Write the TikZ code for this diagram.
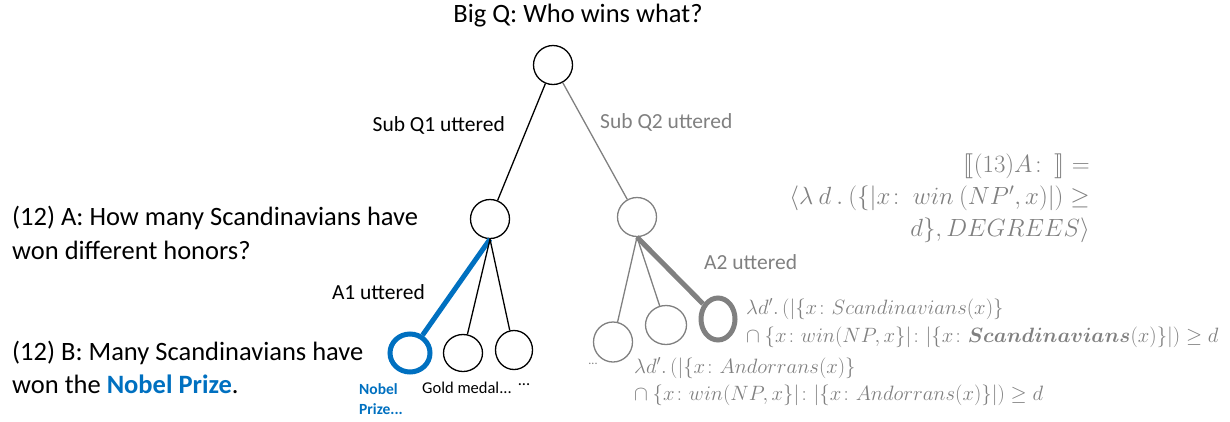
\documentclass[tikz,border=0pt]{standalone}
\usepackage{fontspec}
\setmainfont{Carlito}
\usepackage{amsmath,amssymb,stmaryrd}
\usetikzlibrary{shapes.geometric}
\definecolor{gr}{RGB}{128,128,128}
\definecolor{bl}{RGB}{0,112,192}
\tikzset{
  nd/.style={draw,ellipse,minimum width=#1,line width=1.3pt,inner sep=0pt},
  big/.style={font=\fontsize{26.5}{31}\selectfont,inner sep=0pt},
  lab/.style={font=\fontsize{21.5}{25}\selectfont,inner sep=0pt},
  fm/.style={font=\fontsize{23}{32}\selectfont,inner sep=0pt,text=gr},
  fs/.style={font=\fontsize{20.5}{27}\selectfont,inner sep=0pt,text=gr},
}
\begin{document}
\begin{tikzpicture}[x=1pt,y=-1pt]
\useasboundingbox (0,0) rectangle (1230,421);
% nodes
\node[nd=39pt,minimum height=39pt] (root) at (553,65) {};
\node[nd=39pt,minimum height=39pt] (q1) at (490,219) {};
\node[nd=39pt,minimum height=39pt,draw=gr] (q2) at (637,217) {};
\node[nd=40pt,minimum height=38pt,draw=bl,line width=5pt] (nob) at (410,353) {};
\node[nd=39pt,minimum height=37pt] (gold) at (463,353) {};
\node[nd=37pt,minimum height=39pt] (dots) at (514,350) {};
\node[nd=39pt,minimum height=40pt,draw=gr] (g1) at (613,342) {};
\node[nd=41pt,minimum height=39pt,draw=gr] (g2) at (666,325) {};
\node[nd=34pt,minimum height=42pt,draw=gr,line width=5pt] (g3) at (718,319) {};
% edges
\draw[line width=1.3pt] (root) -- (q1);
\draw[line width=1.3pt,gr] (root) -- (q2);
\draw[line width=5pt,bl] (q1.south) -- (nob);
\draw[line width=1.3pt] (q1.south) -- (gold);
\draw[line width=1.3pt] (q1.south) -- (dots);
\draw[line width=1.3pt,gr] (q2.south) -- (g1);
\draw[line width=1.3pt,gr] (q2.south) -- (g2);
\draw[line width=5pt,gr] (q2.south) -- (g3);
% labels
\node[big] (bigq) at (578,16) {Big Q: Who wins what?};
\node[lab,anchor=east] (s1) at (505,125) {Sub Q1 uttered};
\node[lab,anchor=west,text=gr] (s2) at (600,122) {Sub Q2 uttered};
\node[lab,anchor=west,text=gr] (a2) at (704,262) {A2 uttered};
\node[lab,anchor=east] (a1) at (425,292) {A1 uttered};
\node[font=\fontsize{15.5}{20}\selectfont\bfseries,text=bl,align=left,anchor=north west,inner sep=0pt] (nl) at (359,383) {Nobel\\Prize...};
\node[font=\fontsize{16.5}{20}\selectfont,inner sep=0pt] (gl) at (467,388) {Gold medal...};
\node[font=\fontsize{16.5}{20}\selectfont,inner sep=0pt] (dl) at (524,385) {...};
\node[font=\fontsize{12}{16}\selectfont,inner sep=0pt,text=gr] (dl2) at (593,364) {...};
\node[big,anchor=west] (ta1) at (12,218) {(12) A: How many Scandinavians have};
\node[big,anchor=west] (ta2) at (12,250) {won different honors?};
\node[big,anchor=west] (tb1) at (12,353) {(12) B: Many Scandinavians have};
\node[big,anchor=west] (tb2) at (12,384) {won the \textcolor{bl}{\textbf{Nobel Prize}}.};
% formulas
\node[fm,anchor=east] (f1) at (1090,166) {$\llbracket(13)A\colon\ \rrbracket =$};
\node[fm,anchor=east] (f2) at (1090,198) {$\langle\lambda\ d\ .\ (\{|x\colon\ win\ (NP',x)|)\geq$};
\node[fm,anchor=east] (f3) at (1090,230) {$d\}, DEGREES\rangle$};
\node[fs,anchor=west] (h1) at (746,309) {$\lambda d'.\,(|\{x\colon Scandinavians(x)\}$};
\node[fs,anchor=west] (h2) at (746,337) {$\cap\ \{x\colon win(NP,x\}|\colon|\{x\colon \boldsymbol{Scandinavians}(x)\}|)\geq d$};
\node[fs,anchor=west] (k1) at (634,368) {$\lambda d'.\,(|\{x\colon Andorrans(x)\}$};
\node[fs,anchor=west] (k2) at (634,395) {$\cap\ \{x\colon win(NP,x\}|\colon|\{x\colon Andorrans(x)\}|)\geq d$};
\end{tikzpicture}
\end{document}
